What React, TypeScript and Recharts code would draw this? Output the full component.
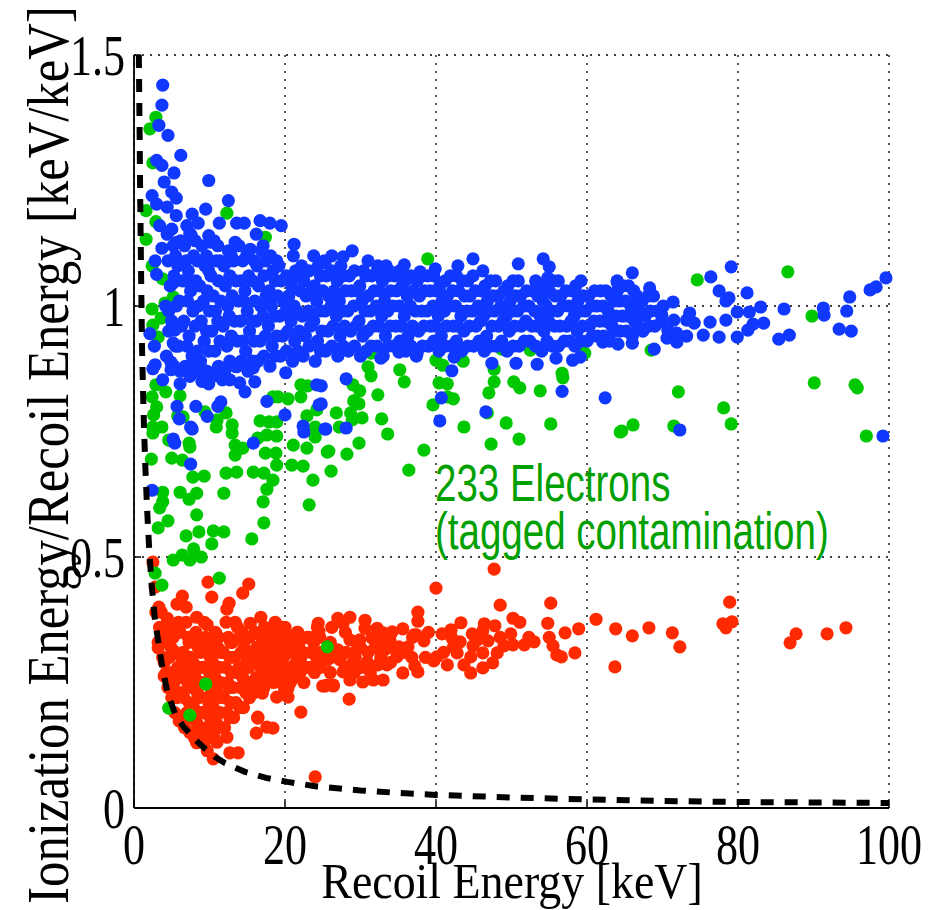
import React from 'react'
import { ScatterChart, Scatter, XAxis, YAxis, CartesianGrid } from 'recharts'

// threshold curve
const thresholdCurve = [
  [0.64, 1.5], [0.72, 1.38], [0.82, 1.22], [0.95, 1.05], [1.06, 0.92], [1.2, 0.83], [1.32, 0.76], [1.5, 0.68],
  [1.72, 0.6], [2.0, 0.52], [2.3, 0.45], [2.78, 0.375], [3.18, 0.335], [3.7, 0.285], [4.4, 0.232], [5.5, 0.185],
  [6.5, 0.163], [7.4, 0.148], [8.4, 0.132], [9.4, 0.118], [10.7, 0.102], [12, 0.09], [14.7, 0.072], [17.5, 0.06],
  [20.3, 0.052], [24.2, 0.043], [30, 0.035], [35, 0.03], [40, 0.026], [50, 0.021], [60, 0.017], [70, 0.014],
  [80, 0.012], [90, 0.011], [100, 0.01],
]

const blueTail = [
  [3.8, 1.44], [3.7, 1.40], [3.3, 1.36], [4.5, 1.34], [6.2, 1.30], [3.0, 1.29], [3.7, 1.28], [5.3, 1.265], [9.9, 1.25],
  [4.0, 1.247], [5.0, 1.227], [2.4, 1.22], [5.6, 1.215], [3.0, 1.203], [4.4, 1.197], [12.5, 1.21], [9.5, 1.193],
  [5.6, 1.18], [7.7, 1.183], [3.4, 1.16], [5.0, 1.153], [4.4, 1.143], [7.0, 1.16], [8.5, 1.165], [7.4, 1.145],
  [11.3, 1.165], [13.6, 1.165], [14.6, 1.165], [16.7, 1.17], [18.0, 1.165], [19.5, 1.16], [16.2, 1.143], [9.9, 1.14],
  [17.1, 1.12], [21.2, 1.123], [23.8, 1.10], [13.4, 1.127], [10.2, 1.127], [15.4, 1.113], [5.7, 1.127], [3.7, 1.115],
  [2.8, 1.09], [3.0, 1.063], [9.7, 1.09], [12.7, 1.09], [2.1, 0.945], [4.6, 0.99], [2.8, 0.883], [5.2, 1.046],
  [5.4, 0.952], [26.2, 1.10],
]

const blueBand = [
  [4.3, 0.90], [4.6, 0.95], [4.2, 1.0], [4.8, 1.04], [4.5, 1.09], [5.0, 0.97], [5.2, 1.12],
  [6.1, 0.87], [5.9, 0.92], [6.3, 0.96], [6.0, 1.01], [6.4, 1.05], [5.8, 1.08], [6.2, 1.13],
  [7.4, 0.86], [7.7, 0.90], [7.3, 0.94], [7.8, 0.99], [7.5, 1.03], [7.2, 1.07], [7.9, 1.10], [7.6, 1.14],
  [9.0, 0.85], [8.8, 0.89], [9.3, 0.93], [8.9, 0.97], [9.2, 1.01], [8.7, 1.04], [9.4, 1.08], [9.0, 1.12],
  [10.4, 0.86], [10.7, 0.91], [10.3, 0.95], [10.8, 0.99], [10.5, 1.02], [10.2, 1.06], [10.9, 1.09], [10.6, 1.13],
  [12.0, 0.87], [12.3, 0.92], [11.8, 0.96], [12.4, 1.00], [12.1, 1.04], [11.9, 1.08], [12.5, 1.11],
  [13.4, 0.88], [13.7, 0.93], [13.3, 0.97], [13.8, 1.01], [13.5, 1.05], [13.2, 1.09], [13.9, 1.12],
  [15.1, 0.87], [14.8, 0.91], [15.3, 0.95], [15.0, 0.99], [14.7, 1.03], [15.2, 1.06], [14.9, 1.10],
  [16.4, 0.89], [16.7, 0.93], [16.2, 0.97], [16.8, 1.00], [16.5, 1.04], [16.3, 1.08], [16.9, 1.11],
  [18.0, 0.88], [18.3, 0.92], [17.8, 0.96], [18.2, 1.00], [17.9, 1.03], [18.4, 1.07], [18.1, 1.10],
  [19.4, 0.90], [19.7, 0.94], [19.3, 0.98], [19.8, 1.01], [19.5, 1.05], [19.2, 1.08],
  [21.0, 0.89], [21.3, 0.93], [20.8, 0.97], [21.2, 1.00], [20.9, 1.04], [21.4, 1.07], [21.1, 1.10],
  [22.4, 0.90], [22.7, 0.94], [22.3, 0.98], [22.8, 1.02], [22.5, 1.05], [22.2, 1.08],
  [24.0, 0.89], [24.3, 0.93], [23.8, 0.97], [24.2, 1.01], [23.9, 1.04], [24.4, 1.08],
  [25.4, 0.91], [25.7, 0.95], [25.3, 0.99], [25.8, 1.02], [25.5, 1.06], [25.2, 1.09],
  [27.0, 0.90], [27.3, 0.94], [26.8, 0.98], [27.2, 1.01], [26.9, 1.05], [27.4, 1.08],
  [28.4, 0.91], [28.7, 0.95], [28.3, 0.99], [28.8, 1.03], [28.5, 1.06],
  [30.0, 0.90], [30.3, 0.94], [29.8, 0.97], [30.2, 1.01], [29.9, 1.04], [30.4, 1.07],
  [31.4, 0.92], [31.7, 0.96], [31.3, 0.99], [31.8, 1.03], [31.5, 1.06],
  [33.0, 0.90], [33.3, 0.94], [32.8, 0.98], [33.2, 1.01], [32.9, 1.05], [33.4, 1.08],
  [34.4, 0.92], [34.7, 0.96], [34.3, 1.00], [34.8, 1.03], [34.5, 1.06],
  [36.0, 0.91], [36.3, 0.94], [35.8, 0.98], [36.2, 1.02], [35.9, 1.05],
  [37.4, 0.90], [37.7, 0.95], [37.3, 0.99], [37.8, 1.02], [37.5, 1.05],
  [39.0, 0.92], [39.3, 0.96], [38.8, 0.99], [39.2, 1.03], [38.9, 1.06],
  [40.4, 0.91], [40.7, 0.94], [40.3, 0.98], [40.8, 1.01], [40.5, 1.04],
  [42.0, 0.92], [42.3, 0.96], [41.8, 1.00], [42.2, 1.03], [41.9, 1.06],
  [43.4, 0.91], [43.7, 0.95], [43.3, 0.98], [43.8, 1.02], [43.5, 1.05],
  [45.0, 0.92], [45.3, 0.96], [44.8, 0.99], [45.2, 1.03], [44.9, 1.06],
  [46.4, 0.91], [46.7, 0.94], [46.3, 0.98], [46.8, 1.01], [46.5, 1.04],
  [48.0, 0.92], [48.3, 0.96], [47.8, 0.99], [48.2, 1.02], [47.9, 1.05],
  [49.4, 0.91], [49.7, 0.95], [49.3, 0.98], [49.8, 1.01], [49.5, 1.04],
  [51.0, 0.92], [51.3, 0.96], [50.8, 0.99], [51.2, 1.02], [50.9, 1.05],
  [52.4, 0.93], [52.7, 0.96], [52.3, 1.00], [52.8, 1.03],
  [54.0, 0.91], [54.3, 0.95], [53.8, 0.98], [54.2, 1.01], [53.9, 1.04],
  [55.4, 0.92], [55.7, 0.96], [55.3, 0.99], [55.8, 1.02], [55.5, 1.05],
  [57.0, 0.93], [57.3, 0.96], [56.8, 1.00], [57.2, 1.03],
  [58.4, 0.92], [58.7, 0.95], [58.3, 0.98], [58.8, 1.01], [58.5, 1.04],
  [60.0, 0.93], [60.3, 0.96], [59.8, 0.99], [60.2, 1.02],
  [61.4, 0.94], [61.7, 0.97], [61.3, 1.00], [61.8, 1.03],
  [63.0, 0.93], [63.3, 0.96], [62.8, 0.99], [63.2, 1.02],
  [64.4, 0.95], [64.7, 0.98], [64.3, 1.01], [64.8, 1.04],
  [66.0, 0.94], [66.3, 0.97], [65.8, 1.00], [66.2, 1.03],
  [67.4, 0.95], [67.7, 0.98], [67.3, 1.01],
  [69.0, 0.96], [69.3, 0.99], [68.8, 1.02],
]

// in-between events that make the band look solid
const blueFill = [
  [5.3, 0.88], [5.5, 0.92], [5.1, 0.96], [5.6, 1.00], [5.3, 1.06], [5.5, 1.10],
  [6.8, 0.88], [7.0, 0.92], [6.6, 0.97], [7.1, 1.01], [6.8, 1.05], [6.9, 1.09], [6.7, 1.12],
  [8.2, 0.87], [8.4, 0.91], [8.1, 0.96], [8.5, 1.00], [8.2, 1.05], [8.4, 1.09], [8.1, 1.13],
  [9.7, 0.87], [9.9, 0.91], [9.6, 0.95], [10.0, 0.99], [9.7, 1.03], [9.9, 1.07], [9.6, 1.10],
  [11.2, 0.88], [11.4, 0.93], [11.1, 0.97], [11.5, 1.01], [11.2, 1.05], [11.4, 1.09], [11.1, 1.12],
  [12.7, 0.89], [12.9, 0.94], [12.6, 0.98], [13.0, 1.02], [12.7, 1.06], [12.9, 1.10],
  [14.2, 0.89], [14.4, 0.93], [14.1, 0.97], [14.5, 1.01], [14.2, 1.05], [14.4, 1.09],
  [15.7, 0.89], [15.9, 0.93], [15.6, 0.97], [16.0, 1.01], [15.7, 1.05], [15.9, 1.09],
  [17.2, 0.90], [17.4, 0.94], [17.1, 0.98], [17.5, 1.02], [17.2, 1.06], [17.4, 1.09],
  [18.7, 0.90], [18.9, 0.94], [18.6, 0.98], [19.0, 1.02], [18.7, 1.05], [18.9, 1.09],
  [20.2, 0.91], [20.4, 0.95], [20.1, 0.99], [20.5, 1.02], [20.2, 1.06],
  [21.7, 0.91], [21.9, 0.95], [21.6, 0.99], [22.0, 1.03], [21.7, 1.06],
  [23.2, 0.92], [23.4, 0.96], [23.1, 0.99], [23.5, 1.03], [23.2, 1.07],
  [24.7, 0.91], [24.9, 0.95], [24.6, 0.99], [25.0, 1.03], [24.7, 1.06],
  [26.2, 0.92], [26.4, 0.96], [26.1, 1.00], [26.5, 1.03], [26.2, 1.07],
  [27.7, 0.92], [27.9, 0.96], [27.6, 0.99], [28.0, 1.03], [27.7, 1.06],
  [29.2, 0.92], [29.4, 0.96], [29.1, 1.00], [29.5, 1.03], [29.2, 1.07],
  [30.7, 0.91], [30.9, 0.95], [30.6, 0.99], [31.0, 1.02], [30.7, 1.06],
  [32.2, 0.92], [32.4, 0.96], [32.1, 1.00], [32.5, 1.03], [32.2, 1.07],
  [33.7, 0.92], [33.9, 0.96], [33.6, 0.99], [34.0, 1.03], [33.7, 1.06],
  [35.2, 0.93], [35.4, 0.96], [35.1, 1.00], [35.5, 1.04], [35.2, 1.07],
  [36.7, 0.92], [36.9, 0.96], [36.6, 1.00], [37.0, 1.03], [36.7, 1.06],
  [38.2, 0.92], [38.4, 0.96], [38.1, 0.99], [38.5, 1.03], [38.2, 1.06],
  [39.7, 0.93], [39.9, 0.96], [39.6, 1.00], [40.0, 1.03], [39.7, 1.06],
  [41.2, 0.92], [41.4, 0.96], [41.1, 0.99], [41.5, 1.02], [41.2, 1.05],
  [42.7, 0.93], [42.9, 0.96], [42.6, 1.00], [43.0, 1.03], [42.7, 1.06],
  [44.2, 0.92], [44.4, 0.96], [44.1, 0.99], [44.5, 1.02], [44.2, 1.05],
  [45.7, 0.93], [45.9, 0.97], [45.6, 1.00], [46.0, 1.03],
  [47.2, 0.92], [47.4, 0.96], [47.1, 0.99], [47.5, 1.02], [47.2, 1.05],
  [48.7, 0.93], [48.9, 0.97], [48.6, 1.00], [49.0, 1.03],
  [50.2, 0.92], [50.4, 0.96], [50.1, 0.99], [50.5, 1.02], [50.2, 1.05],
  [51.7, 0.93], [51.9, 0.97], [51.6, 1.00], [52.0, 1.03],
  [53.2, 0.92], [53.4, 0.96], [53.1, 0.99], [53.5, 1.02], [53.2, 1.05],
  [54.7, 0.93], [54.9, 0.97], [54.6, 1.00], [55.0, 1.03],
  [56.2, 0.92], [56.4, 0.96], [56.1, 0.99], [56.5, 1.02], [56.2, 1.05],
  [57.7, 0.93], [57.9, 0.97], [57.6, 1.00], [58.0, 1.03],
  [59.2, 0.93], [59.4, 0.96], [59.1, 0.99], [59.5, 1.02], [59.2, 1.05],
  [60.7, 0.94], [60.9, 0.97], [60.6, 1.00], [61.0, 1.03],
  [62.2, 0.94], [62.4, 0.97], [62.1, 1.00], [62.5, 1.03],
  [63.7, 0.95], [63.9, 0.98], [63.6, 1.01], [64.0, 1.03],
  [65.2, 0.95], [65.4, 0.98], [65.1, 1.01], [65.5, 1.04],
  [66.7, 0.96], [66.9, 0.99], [66.6, 1.02],
  [68.2, 0.96], [68.4, 0.99], [68.1, 1.02],
  [69.9, 0.97], [70.1, 1.00],
]

const blueBelow = [
  [2.7, 0.92], [5.2, 0.926], [2.5, 0.875], [4.9, 0.888], [4.9, 0.873], [3.8, 0.853], [6.1, 0.845], [7.7, 0.88],
  [8.9, 0.877], [9.9, 0.845], [10.9, 0.867], [11.7, 0.853], [12.7, 0.853], [14.0, 0.847], [14.7, 0.829], [16.0, 0.849],
  [13.6, 0.879], [15.8, 0.877], [20.1, 0.867], [17.6, 0.81], [11.5, 0.809], [11.1, 0.80], [5.7, 0.80], [8.2, 0.80],
  [9.7, 0.78], [6.0, 0.775], [7.5, 0.759], [7.7, 0.755], [5.2, 0.735], [5.4, 0.727], [15.8, 0.727], [7.5, 0.685],
  [20.0, 0.783], [24.5, 0.803], [22.4, 0.761], [22.5, 0.749], [25.3, 0.755], [24.2, 0.843], [2.4, 0.633],
  [25.4, 0.912], [32.7, 0.896], [37.5, 0.906], [35.1, 0.908], [42.4, 0.898], [42.1, 0.871], [47.4, 0.886],
  [50.6, 0.886], [53.4, 0.884], [55.9, 0.896], [58.1, 0.892], [59.1, 0.898], [56.7, 0.83], [62.4, 0.817],
  [28.1, 0.855], [40.7, 0.817], [46.6, 0.789], [40.5, 0.771], [28.1, 0.757], [25.4, 0.755], [24.8, 0.841], [24.8, 0.805],
]

const blueAbove = [
  [28.9, 1.11], [27.7, 1.098], [31.0, 1.09], [32.3, 1.08], [33.8, 1.07], [35.8, 1.082], [37.9, 1.068], [39.9, 1.074],
  [42.9, 1.08], [44.9, 1.094], [46.2, 1.07], [50.9, 1.084], [54.2, 1.094], [55.0, 1.078], [54.8, 1.056], [64.0, 1.05],
  [25.3, 1.086],
]

const blueRight = [
  [66.0, 1.066], [64.0, 1.048], [68.3, 1.036], [76.4, 1.058], [79.1, 1.078], [77.5, 1.03], [78.8, 1.016], [78.4, 1.01],
  [81.2, 1.026], [79.9, 0.988], [81.5, 0.988], [83.0, 0.998], [86.1, 0.994], [91.3, 0.996], [91.4, 0.982], [94.4, 0.99],
  [94.8, 1.018], [97.5, 1.032], [98.3, 1.038], [99.6, 1.056], [74.2, 0.966], [73.2, 0.94], [75.4, 0.942], [76.3, 0.968],
  [78.4, 0.972], [77.5, 0.938], [79.9, 0.938], [81.3, 0.952], [82.0, 0.964], [83.4, 0.966], [85.4, 0.934], [86.8, 0.942],
  [93.4, 0.954], [95.0, 0.95], [71.9, 0.928], [70.6, 0.936], [68.9, 0.914], [66.0, 0.926], [64.1, 0.924], [62.1, 0.928],
  [72.3, 0.753], [99.2, 0.741], [69.9, 0.982], [71.4, 1.008], [73.6, 0.986], [73.2, 0.972], [71.5, 0.972], [70.7, 0.952],
  [71.9, 0.946],
]

const greenLeft = [
  [2.9, 1.376], [2.1, 1.353], [2.5, 1.285], [1.6, 1.19], [2.9, 1.168], [1.6, 1.133], [12.3, 1.185], [17.4, 1.137],
  [2.4, 1.08], [3.8, 1.054], [2.4, 0.994], [3.6, 0.976], [2.5, 0.962], [5.2, 1.018], [4.1, 1.006], [3.2, 0.938],
  [2.4, 0.819], [3.0, 0.799], [2.6, 0.783], [2.5, 0.759], [3.7, 0.759], [2.5, 0.747], [4.2, 0.829], [2.9, 0.843],
  [6.1, 0.821], [6.8, 0.877], [5.8, 0.781], [6.5, 0.779], [9.4, 0.789], [10.9, 0.759], [11.0, 0.773], [12.2, 0.787],
  [13.0, 0.763], [13.0, 0.747], [4.6, 0.733], [7.3, 0.727], [7.4, 0.719], [2.3, 0.695], [5.0, 0.697], [6.4, 0.693],
  [7.8, 0.659], [9.3, 0.661], [12.2, 0.667], [13.6, 0.669], [13.4, 0.723], [14.4, 0.717], [13.4, 0.703], [15.8, 0.669],
  [17.2, 0.667], [18.4, 0.653], [17.6, 0.635], [16.4, 0.737], [17.6, 0.743], [18.9, 0.741], [17.4, 0.707], [18.8, 0.707],
  [18.9, 0.683], [16.7, 0.771], [17.9, 0.769], [18.9, 0.769], [18.4, 0.819], [20.4, 0.815], [19.1, 0.819], [21.1, 0.723],
  [20.9, 0.683], [22.4, 0.681], [23.7, 0.653], [22.1, 0.843], [22.1, 0.819], [23.0, 0.841], [22.9, 0.781], [24.2, 0.793],
  [24.0, 0.759], [24.0, 0.739], [25.6, 0.709], [22.9, 0.717], [3.8, 0.629], [3.8, 0.61], [3.4, 0.598], [6.1, 0.629],
  [7.3, 0.615], [8.3, 0.627], [11.9, 0.627], [17.1, 0.61], [23.2, 0.604], [8.3, 0.584], [4.5, 0.572], [3.2, 0.558],
  [6.9, 0.542], [8.6, 0.55], [10.5, 0.552], [11.9, 0.55], [10.3, 0.526], [17.2, 0.568], [15.6, 0.536], [7.9, 0.516],
  [6.4, 0.504], [5.2, 0.494], [7.4, 0.494], [8.9, 0.50], [2.8, 0.468], [3.7, 0.444], [11.3, 0.458], [9.5, 0.247],
  [4.6, 0.199], [7.4, 0.185], [25.6, 0.321],
]

const greenMid = [
  [31.4, 0.906], [31.0, 0.879], [31.4, 0.861], [35.2, 0.873], [35.8, 0.849], [32.3, 0.823], [29.0, 0.843], [29.9, 0.831],
  [29.1, 0.811], [29.8, 0.805], [26.8, 0.787], [28.7, 0.787], [30.2, 0.777], [32.8, 0.775], [27.2, 0.759], [28.9, 0.773],
  [33.6, 0.745], [29.8, 0.727], [25.8, 0.711], [28.2, 0.705], [38.4, 0.713], [26.1, 0.671], [36.4, 0.673], [40.0, 0.892],
  [40.9, 0.882], [43.6, 0.89], [40.4, 0.847], [41.5, 0.845], [39.6, 0.803], [41.5, 0.819], [42.3, 0.815], [43.7, 0.759],
  [48.7, 0.914], [47.7, 0.874], [47.7, 0.849], [47.0, 0.827], [50.3, 0.849], [51.1, 0.837], [53.8, 0.831], [52.5, 0.912],
  [49.3, 0.767], [51.0, 0.735], [47.3, 0.725], [55.2, 0.765], [56.7, 0.866], [56.8, 0.857], [59.7, 0.906], [64.4, 0.749],
  [46.8, 0.787], [38.9, 1.094], [35.6, 1.066],
]

const greenRight = [
  [74.6, 1.052], [86.6, 1.068], [89.8, 0.98], [68.5, 0.912], [90.1, 0.847], [95.5, 0.843], [95.8, 0.837], [72.1, 0.829],
  [78.1, 0.797], [71.5, 0.761], [79.1, 0.765], [66.1, 0.763], [64.6, 0.751], [97.0, 0.741],
]

const redCore = [
  [3.2, 0.33], [3.4, 0.36], [3.8, 0.30], [3.6, 0.39],
  [4.5, 0.24], [4.3, 0.27], [4.7, 0.30], [4.4, 0.33], [4.8, 0.36],
  [5.4, 0.19], [5.7, 0.22], [5.3, 0.25], [5.8, 0.28], [5.5, 0.31], [5.2, 0.34], [5.9, 0.37],
  [6.7, 0.16], [7.0, 0.19], [6.6, 0.22], [7.1, 0.25], [6.8, 0.28], [6.5, 0.31], [7.2, 0.34], [6.9, 0.37],
  [8.0, 0.14], [8.3, 0.17], [7.9, 0.20], [8.4, 0.23], [8.1, 0.26], [7.8, 0.29], [8.5, 0.32], [8.2, 0.35],
  [9.3, 0.13], [9.6, 0.16], [9.2, 0.19], [9.7, 0.22], [9.4, 0.25], [9.1, 0.28], [9.8, 0.31], [9.5, 0.34], [9.3, 0.37],
  [10.6, 0.14], [10.9, 0.17], [10.5, 0.20], [11.0, 0.23], [10.7, 0.26], [10.4, 0.29], [11.1, 0.32], [10.8, 0.35],
  [12.0, 0.16], [12.3, 0.19], [11.9, 0.22], [12.4, 0.25], [12.1, 0.28], [11.8, 0.31], [12.5, 0.34], [12.2, 0.37],
  [13.2, 0.18], [13.5, 0.21], [13.1, 0.24], [13.6, 0.27], [13.3, 0.30], [13.0, 0.33], [13.7, 0.36],
  [14.5, 0.20], [14.8, 0.23], [14.4, 0.26], [14.9, 0.29], [14.6, 0.32], [14.3, 0.35],
  [15.9, 0.23], [16.2, 0.26], [15.8, 0.29], [16.3, 0.32], [16.0, 0.35],
  [17.2, 0.24], [17.5, 0.27], [17.1, 0.30], [17.6, 0.33], [17.3, 0.36],
  [18.5, 0.25], [18.8, 0.28], [18.4, 0.31], [18.9, 0.34],
  [19.9, 0.24], [20.2, 0.27], [19.8, 0.30], [20.3, 0.33], [20.0, 0.36],
  [21.2, 0.26], [21.5, 0.29], [21.1, 0.32], [21.6, 0.35],
  [22.5, 0.25], [22.8, 0.28], [22.4, 0.31], [22.9, 0.34],
  [23.9, 0.27], [24.2, 0.30], [23.8, 0.33], [24.3, 0.36],
]

const redFill = [
  [4.0, 0.29], [4.1, 0.34], [5.0, 0.22], [5.1, 0.27], [4.9, 0.32], [6.1, 0.18], [6.2, 0.23], [6.0, 0.26], [6.3, 0.30],
  [6.1, 0.35], [7.4, 0.15], [7.5, 0.18], [7.3, 0.21], [7.6, 0.24], [7.4, 0.27], [7.5, 0.30], [7.3, 0.33], [8.7, 0.15],
  [8.8, 0.19], [8.6, 0.22], [8.9, 0.25], [8.7, 0.28], [8.8, 0.31], [8.6, 0.34], [10.0, 0.15], [10.1, 0.18], [9.9, 0.21],
  [10.2, 0.24], [10.0, 0.27], [10.1, 0.30], [9.9, 0.33], [11.3, 0.16], [11.4, 0.19], [11.2, 0.22], [11.5, 0.25],
  [11.3, 0.28], [11.4, 0.31], [11.2, 0.34], [12.7, 0.18], [12.8, 0.21], [12.6, 0.24], [12.9, 0.27], [12.7, 0.30],
  [12.8, 0.33], [14.0, 0.20], [14.1, 0.24], [13.9, 0.28], [14.2, 0.31], [14.0, 0.34], [15.3, 0.22], [15.4, 0.25],
  [15.2, 0.28], [15.5, 0.31], [15.3, 0.34], [16.7, 0.25], [16.8, 0.28], [16.6, 0.31], [16.9, 0.34], [18.0, 0.26],
  [18.1, 0.29], [17.9, 0.32], [18.2, 0.35], [19.3, 0.26], [19.4, 0.29], [19.2, 0.32], [19.5, 0.35], [20.7, 0.25],
  [20.8, 0.28], [20.6, 0.31], [20.9, 0.34], [22.0, 0.27], [22.1, 0.30], [21.9, 0.33], [23.3, 0.28], [23.4, 0.31],
  [23.2, 0.34], [24.7, 0.28], [24.8, 0.31], [24.6, 0.34], [26.0, 0.27], [26.1, 0.30], [26.0, 0.33], [26.2, 0.36],
  [28.0, 0.28], [28.1, 0.31], [28.0, 0.35], [29.2, 0.27], [29.3, 0.30], [30.0, 0.32], [30.1, 0.28], [31.0, 0.31],
  [32.7, 0.30], [32.8, 0.33], [34.0, 0.29], [34.1, 0.32], [35.8, 0.31], [36.8, 0.30], [36.9, 0.34], [38.6, 0.30],
  [39.0, 0.35], [41.0, 0.31], [42.0, 0.355], [45.5, 0.335], [48.5, 0.34], [52.3, 0.34], [55.0, 0.34],
]

const redOuter = [
  [2.5, 0.49], [2.8, 0.44], [9.8, 0.45], [15.2, 0.446], [14.4, 0.428], [10.3, 0.42], [6.4, 0.422], [5.7, 0.406],
  [3.3, 0.40], [2.9, 0.39], [6.9, 0.40], [12.6, 0.408], [12.3, 0.396], [9.7, 0.365], [4.4, 0.378], [3.8, 0.36],
  [8.3, 0.38], [13.4, 0.37], [15.4, 0.368], [16.8, 0.38], [18.7, 0.37], [19.7, 0.36], [21.7, 0.35], [24.4, 0.368],
  [24.5, 0.352], [3.2, 0.319], [4.0, 0.263], [4.8, 0.241], [6.0, 0.173], [8.3, 0.13], [9.7, 0.114], [10.5, 0.098],
  [12.7, 0.11], [13.8, 0.11], [11.0, 0.131], [12.3, 0.141], [16.2, 0.149], [17.6, 0.161], [18.4, 0.159], [16.4, 0.181],
  [17.0, 0.229], [15.8, 0.241], [18.9, 0.221], [20.4, 0.221], [19.2, 0.261], [20.5, 0.265], [22.1, 0.191], [24.0, 0.062],
  [25.0, 0.243], [20.4, 0.239], [25.3, 0.243], [26.4, 0.243], [16.4, 0.179],
]

const redBand = [
  [47.7, 0.476], [40.0, 0.438], [48.5, 0.404], [55.2, 0.408], [61.2, 0.376], [63.8, 0.357], [63.7, 0.281], [37.6, 0.39],
  [37.6, 0.372], [38.4, 0.333], [37.4, 0.345], [43.3, 0.369], [46.4, 0.367], [47.8, 0.363], [50.2, 0.378], [51.1, 0.37],
  [54.8, 0.368], [57.1, 0.349], [58.9, 0.357], [49.9, 0.347], [46.9, 0.333], [40.8, 0.347], [42.1, 0.339], [44.8, 0.347],
  [46.2, 0.353], [43.2, 0.331], [44.9, 0.323], [42.3, 0.321], [49.0, 0.323], [50.2, 0.325], [51.7, 0.325], [53.0, 0.331],
  [55.5, 0.323], [56.0, 0.305], [56.6, 0.301], [58.4, 0.309], [40.1, 0.301], [39.7, 0.293], [41.5, 0.285], [42.8, 0.309],
  [44.6, 0.301], [43.7, 0.285], [44.6, 0.269], [46.2, 0.309], [46.2, 0.279], [47.5, 0.289], [48.1, 0.309],
  [28.6, 0.38], [27.0, 0.378], [27.7, 0.368], [30.6, 0.374], [30.6, 0.358], [32.2, 0.358], [33.0, 0.349], [34.2, 0.351],
  [35.6, 0.357], [29.9, 0.335], [28.6, 0.335], [31.5, 0.339], [33.9, 0.335], [35.1, 0.321], [36.3, 0.321], [37.1, 0.345],
  [27.0, 0.315], [29.5, 0.315], [31.9, 0.319], [33.2, 0.315], [34.8, 0.301], [25.6, 0.295], [27.3, 0.295], [29.0, 0.289],
  [30.9, 0.291], [32.3, 0.285], [33.5, 0.285], [27.7, 0.271], [31.3, 0.271], [33.0, 0.255], [30.3, 0.251], [31.7, 0.255],
  [35.6, 0.269], [37.2, 0.283], [37.6, 0.271], [28.6, 0.255], [26.4, 0.245], [25.6, 0.245], [28.5, 0.217],
]

const redSparse = [
  [66.0, 0.343], [68.2, 0.359], [71.3, 0.349], [72.3, 0.321], [78.9, 0.41], [78.0, 0.367], [78.4, 0.359], [79.2, 0.371],
  [86.9, 0.329], [87.7, 0.347], [91.8, 0.347], [94.3, 0.359],
]

const xTicks = [0, 20, 40, 60, 80, 100]
const yTicks = [0, 0.5, 1, 1.5]

const BLUE = '#1038ff'
const GREEN = '#00c800'
const RED = '#ff2a00'
const SERIF = '"Liberation Serif", "Times New Roman", serif'
const SANS = '"Liberation Sans", Arial, sans-serif'

const toPts = (rows: number[][]) => rows.map(([x, y]) => ({ x, y }))

const dot = (color: string) => (props: any) => <circle cx={props.cx} cy={props.cy} r={6.6} fill={color} />

const XTick = (props: any) => {
  const { x, y, payload } = props
  return (
    <g>
      <line x1={x} y1={y} x2={x} y2={y - 7} stroke="#000" strokeWidth={1.5} />
      <text transform={`translate(${x},${y + 56}) scale(0.76,1)`} textAnchor="middle" fontFamily={SERIF} fontSize={58} fill="#000">
        {payload.value}
      </text>
    </g>
  )
}

const YTick = (props: any) => {
  const { x, y, payload } = props
  return (
    <g>
      <line x1={x} y1={y} x2={x + 7} y2={y} stroke="#000" strokeWidth={1.5} />
      <text transform={`translate(${x - 9},${y + 20}) scale(0.76,1)`} textAnchor="end" fontFamily={SERIF} fontSize={58} fill="#000">
        {String(payload.value)}
      </text>
    </g>
  )
}

const RightTick = (props: any) => {
  const { x, y } = props
  return <line x1={x} y1={y} x2={x - 7} y2={y} stroke="#000" strokeWidth={1.5} />
}

const TopTick = (props: any) => {
  const { x, y } = props
  return <line x1={x} y1={y} x2={x} y2={y + 7} stroke="#000" strokeWidth={1.5} />
}

export default function App() {
  const red = toPts([...redCore, ...redFill, ...redOuter, ...redBand, ...redSparse])
  const green = toPts([...greenLeft, ...greenMid, ...greenRight])
  const blue = toPts([...blueBand, ...blueFill, ...blueTail, ...blueBelow, ...blueAbove, ...blueRight])
  const curve = toPts(thresholdCurve)

  return (
    <div style={{ position: 'absolute', left: 0, top: 0, width: 942, height: 910, background: '#fff' }}>
      <ScatterChart width={942} height={910} margin={{ top: 55, right: 53, bottom: 0, left: 0 }}>
        <CartesianGrid stroke="#000" strokeDasharray="2 6" strokeWidth={1.3} />
        <XAxis type="number" dataKey="x" domain={[0, 100]} ticks={xTicks} height={102}
          tickSize={0} tickMargin={0} tickLine={false} tick={<XTick />}
          axisLine={{ stroke: '#000', strokeWidth: 1.8 }} />
        <YAxis type="number" dataKey="y" domain={[0, 1.5]} ticks={yTicks} width={134}
          tickSize={0} tickMargin={0} tickLine={false} tick={<YTick />}
          axisLine={{ stroke: '#000', strokeWidth: 1.8 }} />
        <XAxis xAxisId="top" orientation="top" type="number" domain={[0, 100]} ticks={xTicks} height={0}
          tickSize={0} tickMargin={0} tickLine={false} tick={<TopTick />}
          axisLine={{ stroke: '#000', strokeWidth: 1.8 }} />
        <YAxis yAxisId="right" orientation="right" type="number" domain={[0, 1.5]} ticks={yTicks} width={0}
          tickSize={0} tickMargin={0} tickLine={false} tick={<RightTick />}
          axisLine={{ stroke: '#000', strokeWidth: 1.8 }} />
        <Scatter data={red} shape={dot(RED)} isAnimationActive={false} />
        <Scatter data={green} shape={dot(GREEN)} isAnimationActive={false} />
        <Scatter data={blue} shape={dot(BLUE)} isAnimationActive={false} />
        <Scatter data={curve} shape={() => <g />} line={{ stroke: '#000', strokeWidth: 6, strokeDasharray: '13 11' }}
          lineType="joint" isAnimationActive={false} />
      </ScatterChart>
      <svg width={942} height={910} style={{ position: 'absolute', left: 0, top: 0, pointerEvents: 'none' }}>
        <text transform="translate(512,898) scale(0.9,1)" textAnchor="middle" fontFamily={SERIF} fontSize={51} fill="#000">
          Recoil Energy [keV]
        </text>
        <text transform="translate(68,455) rotate(-90) scale(0.845,1)" textAnchor="middle" fontFamily={SERIF} fontSize={60} fill="#000">
          Ionization Energy/Recoil Energy [keV/keV]
        </text>
        <g fontFamily={SANS} fontSize={51} fill="#00a000">
          <text transform="translate(435,501) scale(0.755,1)">233 Electrons</text>
          <text transform="translate(435,549) scale(0.755,1)">(tagged contamination)</text>
        </g>
      </svg>
    </div>
  )
}
